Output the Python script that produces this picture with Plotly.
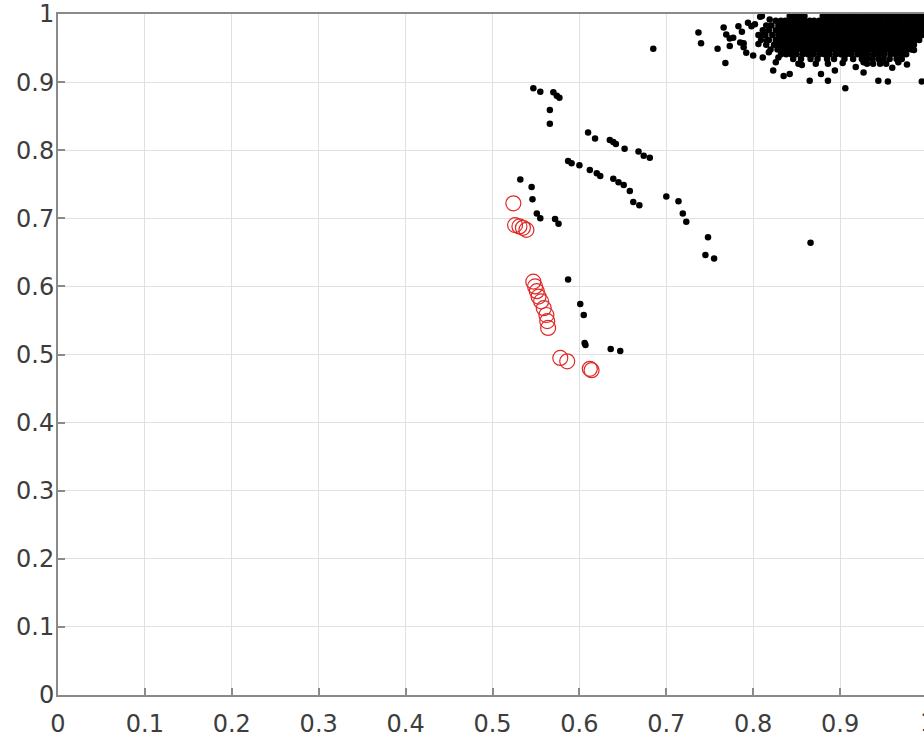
import plotly.graph_objects as go

# ---------------- data ----------------
tick_vals = [0, 0.1, 0.2, 0.3, 0.4, 0.5, 0.6, 0.7, 0.8, 0.9, 1.0]
tick_text = ["0", "0.1", "0.2", "0.3", "0.4", "0.5", "0.6", "0.7", "0.8", "0.9", "1"]

# red open circles
red_x = [0.524, 0.526, 0.531, 0.535, 0.539, 0.547, 0.549, 0.551, 0.553, 0.556,
         0.559, 0.562, 0.563, 0.564, 0.578, 0.586, 0.612, 0.614]
red_y = [0.722, 0.690, 0.688, 0.686, 0.683, 0.607, 0.600, 0.593, 0.585, 0.578,
         0.568, 0.558, 0.549, 0.539, 0.495, 0.490, 0.479, 0.477]

# isolated black points (middle region)
mid_x = [0.547, 0.555, 0.570, 0.574, 0.577, 0.566, 0.566, 0.610, 0.618, 0.635,
         0.639, 0.642, 0.652, 0.668, 0.674, 0.681, 0.587, 0.591, 0.600, 0.612,
         0.620, 0.624, 0.639, 0.645, 0.651, 0.658, 0.662, 0.669, 0.700, 0.714,
         0.719, 0.723, 0.532, 0.545, 0.546, 0.551, 0.555, 0.572, 0.576, 0.748,
         0.745, 0.755, 0.866, 0.587, 0.601, 0.605, 0.606, 0.607, 0.636, 0.647,
         0.685]
mid_y = [0.891, 0.886, 0.885, 0.880, 0.877, 0.859, 0.839, 0.826, 0.817, 0.815,
         0.812, 0.809, 0.802, 0.798, 0.792, 0.789, 0.784, 0.781, 0.778, 0.771,
         0.766, 0.762, 0.758, 0.753, 0.749, 0.740, 0.724, 0.719, 0.732, 0.725,
         0.707, 0.695, 0.757, 0.746, 0.728, 0.707, 0.700, 0.699, 0.692, 0.672,
         0.646, 0.641, 0.664, 0.610, 0.574, 0.558, 0.517, 0.514, 0.508, 0.505,
         0.949]

# scattered black points around the dense cluster
edge_x = [0.759, 0.768, 0.766, 0.769, 0.773, 0.777, 0.783, 0.785, 0.789, 0.794,
          0.798, 0.802, 0.792, 0.800, 0.806, 0.812, 0.816, 0.819, 0.823, 0.826,
          0.737, 0.740, 0.835, 0.842, 0.811, 0.773, 0.787, 0.789, 0.808, 0.810,
          0.865, 0.878, 0.886, 0.894, 0.886, 0.906, 0.927, 0.927, 0.944, 0.955,
          0.967, 0.977, 0.994, 0.818, 0.829, 0.856, 0.903, 0.918, 0.960, 0.985]
edge_y = [0.949, 0.928, 0.980, 0.970, 0.953, 0.965, 0.982, 0.958, 0.951, 0.987,
          0.982, 0.985, 0.943, 0.939, 0.956, 0.970, 0.961, 0.992, 0.917, 0.929,
          0.973, 0.957, 0.909, 0.912, 0.936, 0.964, 0.974, 0.957, 0.996, 0.997,
          0.902, 0.912, 0.902, 0.917, 0.927, 0.891, 0.929, 0.914, 0.902, 0.901,
          0.929, 0.926, 0.901, 0.944, 0.936, 0.925, 0.928, 0.922, 0.921, 0.947]

# dense cluster, read row by row (row y value, x positions along the row)
row_y = [0.997, 0.990, 0.983, 0.976, 0.969, 0.962, 0.955, 0.948, 0.941, 0.934, 0.927]
row_x = [
    [0.842, 0.848, 0.853, 0.859, 0.880, 0.886, 0.891, 0.897, 0.902, 0.908, 0.913,
     0.919, 0.924, 0.930, 0.935, 0.941, 0.946, 0.952, 0.957, 0.963, 0.968, 0.974,
     0.979, 0.985, 0.990, 0.995],
    [0.826, 0.832, 0.837, 0.843, 0.848, 0.854, 0.859, 0.865, 0.870, 0.876, 0.881,
     0.887, 0.892, 0.898, 0.903, 0.909, 0.914, 0.920, 0.925, 0.931, 0.936, 0.942,
     0.947, 0.953, 0.958, 0.964, 0.969, 0.975, 0.980, 0.986, 0.991, 0.996],
    [0.815, 0.821, 0.829, 0.835, 0.840, 0.846, 0.851, 0.857, 0.862, 0.868, 0.873,
     0.879, 0.884, 0.890, 0.895, 0.901, 0.906, 0.912, 0.917, 0.923, 0.928, 0.934,
     0.939, 0.945, 0.950, 0.956, 0.961, 0.967, 0.972, 0.978, 0.983, 0.989, 0.994],
    [0.811, 0.818, 0.826, 0.832, 0.838, 0.843, 0.849, 0.854, 0.860, 0.865, 0.871,
     0.876, 0.882, 0.887, 0.893, 0.898, 0.904, 0.909, 0.915, 0.920, 0.926, 0.931,
     0.937, 0.942, 0.948, 0.953, 0.959, 0.964, 0.970, 0.975, 0.981, 0.986, 0.992,
     0.997],
    [0.806, 0.814, 0.822, 0.829, 0.835, 0.840, 0.846, 0.851, 0.857, 0.862, 0.868,
     0.873, 0.879, 0.884, 0.890, 0.895, 0.901, 0.906, 0.912, 0.917, 0.923, 0.928,
     0.934, 0.939, 0.945, 0.950, 0.956, 0.961, 0.967, 0.972, 0.978, 0.983, 0.989,
     0.994],
    [0.809, 0.818, 0.826, 0.832, 0.838, 0.843, 0.849, 0.854, 0.860, 0.865, 0.871,
     0.876, 0.882, 0.887, 0.893, 0.898, 0.904, 0.909, 0.915, 0.920, 0.926, 0.931,
     0.937, 0.942, 0.948, 0.953, 0.959, 0.964, 0.970, 0.975, 0.981, 0.986, 0.991],
    [0.815, 0.824, 0.830, 0.836, 0.841, 0.847, 0.852, 0.858, 0.863, 0.869, 0.874,
     0.880, 0.885, 0.891, 0.896, 0.902, 0.907, 0.913, 0.918, 0.924, 0.929, 0.935,
     0.940, 0.946, 0.951, 0.957, 0.962, 0.968, 0.973, 0.979, 0.985],
    [0.820, 0.828, 0.834, 0.839, 0.845, 0.850, 0.856, 0.861, 0.867, 0.872, 0.878,
     0.883, 0.889, 0.894, 0.900, 0.905, 0.911, 0.916, 0.922, 0.927, 0.933, 0.938,
     0.944, 0.949, 0.955, 0.960, 0.966, 0.971, 0.977, 0.982],
    [0.832, 0.838, 0.844, 0.850, 0.857, 0.863, 0.869, 0.876, 0.882, 0.888, 0.895,
     0.901, 0.907, 0.913, 0.920, 0.926, 0.932, 0.939, 0.945, 0.951, 0.958, 0.964,
     0.970, 0.976],
    [0.846, 0.855, 0.866, 0.874, 0.885, 0.893, 0.905, 0.915, 0.925, 0.931, 0.937,
     0.944, 0.950, 0.957, 0.965, 0.971],
    [0.852, 0.872, 0.931, 0.938, 0.946, 0.953],
]

# ---------------- build traces ----------------
dense_x, dense_y = [], []
for yv, xs in zip(row_y, row_x):
    for xv in xs:
        dense_x.append(xv)
        dense_y.append(yv)

black_x = mid_x + edge_x + dense_x
black_y = mid_y + edge_y + dense_y

fig = go.Figure()
fig.add_trace(go.Scatter(
    x=black_x, y=black_y, mode="markers",
    marker=dict(symbol="circle", size=6.5, color="#000000", line=dict(width=0)),
    showlegend=False, hoverinfo="skip"))
fig.add_trace(go.Scatter(
    x=red_x, y=red_y, mode="markers",
    marker=dict(symbol="circle-open", size=15, color="#e02828", line=dict(width=1.2)),
    showlegend=False, hoverinfo="skip"))

W, H = 924, 738
L, T, B = 58, 13, 41
unit_px = 869.0                      # pixels for one x unit
xmax = (W - L) / unit_px              # plot area ends at the window edge

font = dict(family="DejaVu Sans, Arial, sans-serif", size=24, color="#3d3d3d")
axis_common = dict(
    showgrid=True, gridcolor="#e0e0e0", gridwidth=1,
    showline=True, linecolor="#8a8a8a", linewidth=2,
    ticks="inside", ticklen=7, tickwidth=1.5, tickcolor="#8a8a8a",
    zeroline=False, tickfont=font, ticklabeloverflow="allow",
)
fig.update_layout(
    width=W, height=H,
    margin=dict(l=L, r=0, t=T, b=B, pad=0),
    paper_bgcolor="white", plot_bgcolor="white",
    xaxis=dict(range=[0, xmax], tickvals=tick_vals[:-1], ticktext=tick_text[:-1],
               mirror=True, ticklabelstandoff=6, **axis_common),
    yaxis=dict(range=[0, 1], tickvals=tick_vals, ticktext=tick_text,
               mirror=False, ticklabelstandoff=-3, **axis_common),
    annotations=[dict(text="1", xref="paper", yref="paper",
                      x=1.0 / xmax, y=0, xanchor="center", yanchor="top",
                      yshift=-12, showarrow=False, font=font)],
)

fig.write_html(
    "out.html",
    config={"displayModeBar": False},
    post_script="document.body.style.margin='0';document.body.style.overflow='hidden';",
)
